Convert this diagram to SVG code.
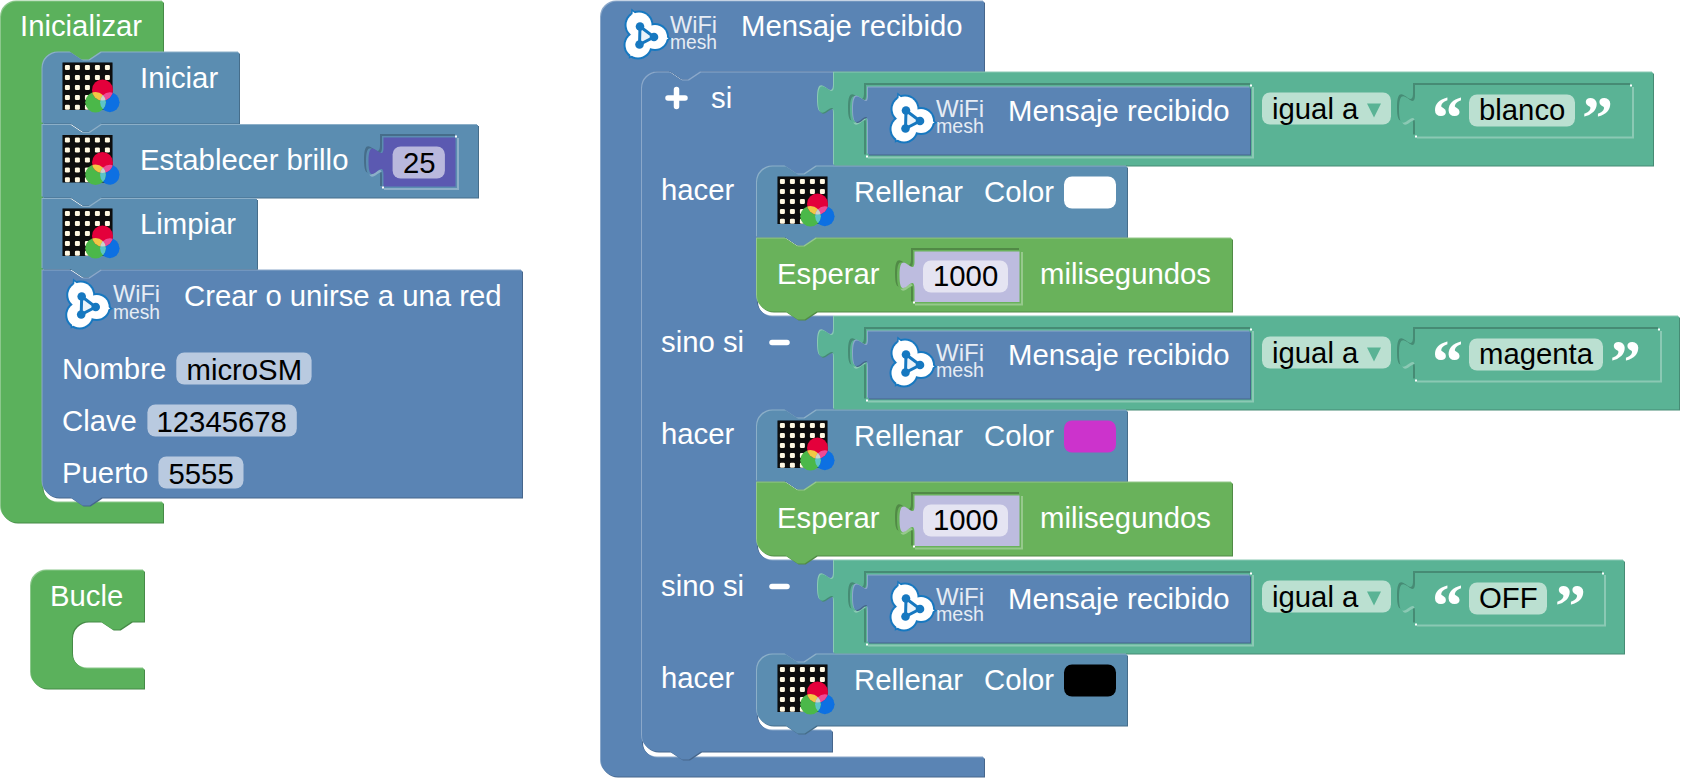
<svg xmlns="http://www.w3.org/2000/svg" width="1681" height="778" viewBox="0 0 1681 778">
<style>
text{font-family:"Liberation Sans",Arial,sans-serif;font-size:29.3px}
.w{fill:#fff}.k{fill:#000}
.bv{filter:url(#bevel)}.in{filter:url(#inset)}
.gA{fill:#5bb15c}.gB{fill:#69b25b}.bA{fill:#5a84b4}.bB{fill:#5b8db1}.v{fill:#5ab395}.pu{fill:#5b59b1}.lil{fill:#bdbcdf}
.fB{fill:#b9cae0}.fV{fill:#bbe0d1}.fP{fill:#b9b8dd}.fL{fill:#e5e4f2}
.wf{fill:#e6ecf4;font-size:24px}.ms{fill:#e6ecf4;font-size:20px}
.q{fill:#fff;font-family:"Liberation Serif",serif;font-weight:bold;font-size:62px}
.pm{stroke:#fff;stroke-width:5.5;stroke-linecap:round;fill:none}
.c{fill:#fff}
</style>
<defs>
<filter id="bevel" x="-5%" y="-5%" width="110%" height="110%" color-interpolation-filters="sRGB">
<feOffset in="SourceGraphic" dx="-1" dy="-1" result="a"/>
<feComponentTransfer in="a" result="l"><feFuncR type="linear" slope=".7" intercept=".3"/><feFuncG type="linear" slope=".7" intercept=".3"/><feFuncB type="linear" slope=".7" intercept=".3"/></feComponentTransfer>
<feOffset in="SourceGraphic" dx="1.2" dy="1.2" result="b"/>
<feComponentTransfer in="b" result="d"><feFuncR type="linear" slope=".78"/><feFuncG type="linear" slope=".78"/><feFuncB type="linear" slope=".78"/></feComponentTransfer>
<feMerge><feMergeNode in="l"/><feMergeNode in="d"/><feMergeNode in="SourceGraphic"/></feMerge>
</filter>
<filter id="inset" x="-5%" y="-5%" width="110%" height="110%" color-interpolation-filters="sRGB">
<feOffset in="SourceGraphic" dx="1.8" dy="1.8" result="a"/>
<feComponentTransfer in="a" result="l"><feFuncR type="linear" slope=".7" intercept=".3"/><feFuncG type="linear" slope=".7" intercept=".3"/><feFuncB type="linear" slope=".7" intercept=".3"/></feComponentTransfer>
<feOffset in="SourceGraphic" dx="-1.8" dy="-1.8" result="b"/>
<feComponentTransfer in="b" result="d"><feFuncR type="linear" slope=".78"/><feFuncG type="linear" slope=".78"/><feFuncB type="linear" slope=".78"/></feComponentTransfer>
<feMerge><feMergeNode in="d"/><feMergeNode in="l"/><feMergeNode in="SourceGraphic"/></feMerge>
</filter>
<filter id="soft" x="-10%" y="-10%" width="120%" height="120%"><feGaussianBlur stdDeviation=".45"/></filter>
<clipPath id="cR"><circle cx="40" cy="27.500" r="10.500"/></clipPath>
<clipPath id="cG"><circle cx="33" cy="39.700" r="10.300"/></clipPath>
<g id="d5"><rect width="5" height="5" rx="1.200" fill="#fff8e2"/></g>
<g id="matrix" filter="url(#soft)">
<rect width="50" height="47.500" fill="#0c0a08"/>
<use href="#d5" x="2.400" y="2.400"/><use href="#d5" x="12.400" y="2.400"/><use href="#d5" x="22.400" y="2.400"/><use href="#d5" x="32.400" y="2.400"/><use href="#d5" x="42.400" y="2.400"/>
<use href="#d5" x="2.400" y="12.400"/><use href="#d5" x="12.400" y="12.400"/><use href="#d5" x="22.400" y="12.400"/><use href="#d5" x="32.400" y="12.400"/><use href="#d5" x="42.400" y="12.400"/>
<use href="#d5" x="2.400" y="22.400"/><use href="#d5" x="12.400" y="22.400"/><use href="#d5" x="22.400" y="22.400"/><use href="#d5" x="32.400" y="22.400"/><use href="#d5" x="42.400" y="22.400"/>
<use href="#d5" x="2.400" y="32.400"/><use href="#d5" x="12.400" y="32.400"/><use href="#d5" x="22.400" y="32.400"/><use href="#d5" x="32.400" y="32.400"/><use href="#d5" x="42.400" y="32.400"/>
<use href="#d5" x="2.400" y="42.200"/><use href="#d5" x="12.400" y="42.200"/><use href="#d5" x="22.400" y="42.200"/><use href="#d5" x="32.400" y="42.200"/><use href="#d5" x="42.400" y="42.200"/>
<ellipse cx="47.300" cy="39.700" rx="9.700" ry="10" fill="#0b6fe2"/>
<circle cx="33" cy="39.700" r="10.300" fill="#4cb849"/>
<circle cx="40" cy="27.500" r="10.500" fill="#e4003a"/>
<g clip-path="url(#cR)"><circle cx="33" cy="39.700" r="10.300" fill="#f2c844"/><ellipse cx="47.300" cy="39.700" rx="9.700" ry="10" fill="#ee4b96"/></g>
<g clip-path="url(#cG)"><ellipse cx="47.300" cy="39.700" rx="9.700" ry="10" fill="#5cc3c9"/></g>
<g clip-path="url(#cR)"><g clip-path="url(#cG)"><ellipse cx="47.300" cy="39.700" rx="9.700" ry="10" fill="#d0d0c8"/></g></g>
</g>
<g id="logo" filter="url(#soft)">
<g fill="#1878c0" stroke="none"><circle cx="16" cy="14.500" r="14.500"/><circle cx="32" cy="26.500" r="14"/><circle cx="15" cy="34.500" r="14.500"/></g>
<path d="M16,14.500L32,26.500L15,34.500Z" fill="#1878c0" stroke="#1878c0" stroke-width="17"/>
<g fill="#fff"><circle cx="16" cy="14.500" r="12.500"/><circle cx="32" cy="26.500" r="12"/><circle cx="15" cy="34.500" r="12.500"/></g>
<path d="M16,14.500L32,26.500L15,34.500Z" fill="#fff" stroke="#fff" stroke-width="14"/>
<path d="M17,16L31,26.500L16.500,34Z" fill="#eaf3fa" stroke="#1878c0" stroke-width="3"/>
<circle cx="17" cy="16" r="4.300" fill="#1878c0"/><circle cx="31" cy="26.500" r="4.300" fill="#1878c0"/><circle cx="16.500" cy="34" r="4.300" fill="#1878c0"/>
</g>
</defs>
<rect width="1681" height="778" fill="#fff"/>
<g transform="translate(0,.5)">

<g id="inicializar">
<path class="gA bv" d="M1,17A16,16 0 0 1 17,1H163V52H101.600l-12,8h-7l-12,-8H58.500A16,16 0 0 0 42.500,68V486A16,16 0 0 0 58.500,502H163V522H17A16,16 0 0 1 1,506Z"/>
<text class="w" x="20" y="35">Inicializar</text>
</g>
<g id="iniciar">
<path class="bB bv" d="M42.500,68A16,16 0 0 1 58.500,52H70.600l12,8h7l12,-8H239V123H101.600l-12,8h-7l-12,-8H42.500Z"/>
<use href="#matrix" x="62.500" y="62"/>
<text class="w" x="140" y="87.500">Iniciar</text>
</g>
<g id="establecer-brillo">
<path class="bB bv" d="M42.500,124.500H70.600l12,8h7l12,-8H478V197H101.600l-12,8h-7l-12,-8H42.500Z"/>
<use href="#matrix" x="62.500" y="134.500"/>
<text class="w" x="140" y="169">Establecer brillo</text>
<path class="bB in" d="M382,135.500H457V187.500H382V176c0,-20 -16,16 -16,-15s16,5 16,-15Z"/>
<path class="pu" d="M383.500,137H455.500V186H383.500V175c0,-20 -15,16 -15,-14s15,4 15,-14Z"/>
<rect class="c" x="455" y="135" width="2" height="2"/><rect class="c" x="382" y="186" width="2" height="2"/>
<rect class="fP" x="392.600" y="146" width="52.300" height="32" rx="8"/>
<text class="k" x="403" y="172">25</text>
</g>
<g id="limpiar">
<path class="bB bv" d="M42.500,198.500H70.600l12,8h7l12,-8H257V268.500H101.600l-12,8h-7l-12,-8H42.500Z"/>
<use href="#matrix" x="62.500" y="208"/>
<text class="w" x="140" y="233">Limpiar</text>
</g>
<g id="crear-red">
<path class="bA bv" d="M42.500,270H70.600l12,8h7l12,-8H522V497H101.600l-12,8h-7l-12,-8H58.500A16,16 0 0 1 42.500,481Z"/>
<use href="#logo" x="64.700" y="280"/>
<text class="wf" x="113" y="301" textLength="47" lengthAdjust="spacingAndGlyphs">WiFi</text>
<text class="ms" x="113" y="318" textLength="47" lengthAdjust="spacingAndGlyphs">mesh</text>
<text class="w" x="184" y="305">Crear o unirse a una red</text>
<text class="w" x="62" y="378">Nombre</text>
<rect class="fB" x="176.300" y="352" width="135.300" height="32" rx="8"/>
<text class="k" x="186.500" y="379">microSM</text>
<text class="w" x="62" y="430">Clave</text>
<rect class="fB" x="147.400" y="404" width="149.400" height="32" rx="8"/>
<text class="k" x="156.500" y="431">12345678</text>
<text class="w" x="62" y="482">Puerto</text>
<rect class="fB" x="158.400" y="456" width="85.100" height="32" rx="8"/>
<text class="k" x="168.500" y="483">5555</text>
</g>
<g id="bucle">
<path class="gA bv" d="M31,586A16,16 0 0 1 47,570H144V621H131.700l-12,8h-7l-12,-8H88A16,16 0 0 0 72,637V652A16,16 0 0 0 88,668H144V688H47A16,16 0 0 1 31,672Z"/>
<text class="w" x="50" y="605">Bucle</text>
</g>

<g id="mensaje-recibido">
<path class="bA bv" d="M601,17A16,16 0 0 1 617,1H984V71H701l-12,8h-7l-12,-8H658A16,16 0 0 0 642,87V741A16,16 0 0 0 658,757H984V776H617A16,16 0 0 1 601,760Z"/>
<use href="#logo" x="623" y="10"/>
<text class="wf" x="670" y="32" textLength="47" lengthAdjust="spacingAndGlyphs">WiFi</text>
<text class="ms" x="670" y="48" textLength="47" lengthAdjust="spacingAndGlyphs">mesh</text>
<text class="w" x="741" y="35">Mensaje recibido</text>
</g>
<g id="si">
<path class="bA bv" d="M642,88A16,16 0 0 1 658,72H670l12,8h7l12,-8H834V166H816.600l-12,8h-7l-12,-8H773A16,16 0 0 0 757,182V300A16,16 0 0 0 773,316H834V410H816.600l-12,8h-7l-12,-8H773A16,16 0 0 0 757,426V544A16,16 0 0 0 773,560H834V654H816.600l-12,8h-7l-12,-8H773A16,16 0 0 0 757,670V714A16,16 0 0 0 773,730H832V751H701l-12,8h-7l-12,-8H658A16,16 0 0 1 642,735Z"/>
<path class="pm" d="M668,97.500H685M676.500,89V106"/>
<text class="w" x="711" y="107">si</text>
<text class="w" x="661" y="199">hacer</text>
<text class="w" x="661" y="351">sino si</text>
<path class="pm" d="M772,342H787"/>
<text class="w" x="661" y="443">hacer</text>
<text class="w" x="661" y="595">sino si</text>
<path class="pm" d="M772,586H787"/>
<text class="w" x="661" y="687">hacer</text>
</g>

<g id="cond-blanco">
<path class="v bv" d="M834,72H1653V165H834V114c0,-20 -16,16 -16,-15s16,5 16,-15Z"/>
<path class="v in" d="M866,84.500H1252V156H866V124c0,-20 -16,16 -16,-15s16,5 16,-15Z"/>
<path class="bA bv" d="M868,87H1250V154H868V123c0,-20 -15,16 -15,-14s15,4 15,-14Z"/>
<rect class="c" x="1250" y="84" width="2" height="2"/><rect class="c" x="866" y="155" width="2" height="2"/>
<use href="#logo" x="889" y="94"/>
<text class="wf" x="936" y="116" textLength="48" lengthAdjust="spacingAndGlyphs">WiFi</text>
<text class="ms" x="936" y="132" textLength="48" lengthAdjust="spacingAndGlyphs">mesh</text>
<text class="w" x="1008" y="120">Mensaje recibido</text>
<rect class="fV" x="1262" y="92" width="129" height="32" rx="8"/>
<text class="k" x="1272" y="118">igual a</text>
<path class="v" d="M1367,103H1381L1374,117Z"/>
<path class="v in" d="M1415,84.500H1632V136H1415V124c0,-20 -16,16 -16,-15s16,5 16,-15Z"/>
<rect class="c" x="1630" y="84" width="2" height="2"/><rect class="c" x="1415" y="135" width="2" height="2"/>
<text class="q" x="1432" y="137">“</text>
<rect class="fV" x="1469" y="94" width="106" height="32" rx="8"/>
<text class="k" x="1479" y="119.500">blanco</text>
<text class="q" x="1582" y="137">”</text>
</g>
<g id="rellenar-blanco">
<path class="bB bv" d="M757,182A16,16 0 0 1 773,166H785.600l12,8h7l12,-8H1127V237H816.600l-12,8h-7l-12,-8H757Z"/>
<use href="#matrix" x="777.500" y="176"/>
<text class="w" x="854" y="201">Rellenar</text>
<text class="w" x="984" y="201">Color</text>
<rect fill="#fff" x="1064" y="176" width="52" height="32" rx="8"/>
</g>
<g id="esperar-1">
<path class="gB bv" d="M757,238H785.600l12,8h7l12,-8H1232V311H816.600l-12,8h-7l-12,-8H773A16,16 0 0 1 757,295Z"/>
<text class="w" x="777" y="283">Esperar</text>
<path class="gB in" d="M913,249.500H1021V303H913V290c0,-20 -16,16 -16,-15s16,5 16,-15Z"/>
<path class="lil" d="M914.500,251H1019.500V301.500H914.500V289c0,-20 -15,16 -15,-14s15,4 15,-14Z"/>
<rect class="c" x="913" y="301" width="2" height="2"/>
<rect class="fL" x="923" y="260" width="85" height="32" rx="8"/>
<text class="k" x="933" y="285">1000</text>
<text class="w" x="1040" y="283">milisegundos</text>
</g>

<g id="cond-magenta" transform="translate(0,244)">
<path class="v bv" d="M834,72H1679V165H834V114c0,-20 -16,16 -16,-15s16,5 16,-15Z"/>
<path class="v in" d="M866,84.500H1252V156H866V124c0,-20 -16,16 -16,-15s16,5 16,-15Z"/>
<path class="bA bv" d="M868,87H1250V154H868V123c0,-20 -15,16 -15,-14s15,4 15,-14Z"/>
<rect class="c" x="1250" y="84" width="2" height="2"/><rect class="c" x="866" y="155" width="2" height="2"/>
<use href="#logo" x="889" y="94"/>
<text class="wf" x="936" y="116" textLength="48" lengthAdjust="spacingAndGlyphs">WiFi</text>
<text class="ms" x="936" y="132" textLength="48" lengthAdjust="spacingAndGlyphs">mesh</text>
<text class="w" x="1008" y="120">Mensaje recibido</text>
<rect class="fV" x="1262" y="92" width="129" height="32" rx="8"/>
<text class="k" x="1272" y="118">igual a</text>
<path class="v" d="M1367,103H1381L1374,117Z"/>
<path class="v in" d="M1415,84.500H1660V136H1415V124c0,-20 -16,16 -16,-15s16,5 16,-15Z"/>
<rect class="c" x="1658" y="84" width="2" height="2"/><rect class="c" x="1415" y="135" width="2" height="2"/>
<text class="q" x="1432" y="137">“</text>
<rect class="fV" x="1469" y="94" width="134" height="32" rx="8"/>
<text class="k" x="1479" y="119.500">magenta</text>
<text class="q" x="1610" y="137">”</text>
</g>
<g id="rellenar-magenta" transform="translate(0,244)">
<path class="bB bv" d="M757,182A16,16 0 0 1 773,166H785.600l12,8h7l12,-8H1127V237H816.600l-12,8h-7l-12,-8H757Z"/>
<use href="#matrix" x="777.500" y="176"/>
<text class="w" x="854" y="201">Rellenar</text>
<text class="w" x="984" y="201">Color</text>
<rect fill="#cc33cc" x="1064" y="176" width="52" height="32" rx="8"/>
</g>
<g id="esperar-2" transform="translate(0,244)">
<path class="gB bv" d="M757,238H785.600l12,8h7l12,-8H1232V311H816.600l-12,8h-7l-12,-8H773A16,16 0 0 1 757,295Z"/>
<text class="w" x="777" y="283">Esperar</text>
<path class="gB in" d="M913,249.500H1021V303H913V290c0,-20 -16,16 -16,-15s16,5 16,-15Z"/>
<path class="lil" d="M914.500,251H1019.500V301.500H914.500V289c0,-20 -15,16 -15,-14s15,4 15,-14Z"/>
<rect class="c" x="913" y="301" width="2" height="2"/>
<rect class="fL" x="923" y="260" width="85" height="32" rx="8"/>
<text class="k" x="933" y="285">1000</text>
<text class="w" x="1040" y="283">milisegundos</text>
</g>

<g id="cond-off" transform="translate(0,488)">
<path class="v bv" d="M834,72H1624V165H834V114c0,-20 -16,16 -16,-15s16,5 16,-15Z"/>
<path class="v in" d="M866,84.500H1252V156H866V124c0,-20 -16,16 -16,-15s16,5 16,-15Z"/>
<path class="bA bv" d="M868,87H1250V154H868V123c0,-20 -15,16 -15,-14s15,4 15,-14Z"/>
<rect class="c" x="1250" y="84" width="2" height="2"/><rect class="c" x="866" y="155" width="2" height="2"/>
<use href="#logo" x="889" y="94"/>
<text class="wf" x="936" y="116" textLength="48" lengthAdjust="spacingAndGlyphs">WiFi</text>
<text class="ms" x="936" y="132" textLength="48" lengthAdjust="spacingAndGlyphs">mesh</text>
<text class="w" x="1008" y="120">Mensaje recibido</text>
<rect class="fV" x="1262" y="92" width="129" height="32" rx="8"/>
<text class="k" x="1272" y="118">igual a</text>
<path class="v" d="M1367,103H1381L1374,117Z"/>
<path class="v in" d="M1415,84.500H1604V136H1415V124c0,-20 -16,16 -16,-15s16,5 16,-15Z"/>
<rect class="c" x="1602" y="84" width="2" height="2"/><rect class="c" x="1415" y="135" width="2" height="2"/>
<text class="q" x="1432" y="137">“</text>
<rect class="fV" x="1469" y="94" width="78" height="32" rx="8"/>
<text class="k" x="1479" y="119.500">OFF</text>
<text class="q" x="1555" y="137">”</text>
</g>
<g id="rellenar-negro">
<path class="bB bv" d="M757,670A16,16 0 0 1 773,654H785.600l12,8h7l12,-8H1127V725H816.600l-12,8h-7l-12,-8H773A16,16 0 0 1 757,709Z"/>
<use href="#matrix" x="777.500" y="664"/>
<text class="w" x="854" y="689">Rellenar</text>
<text class="w" x="984" y="689">Color</text>
<rect fill="#000" x="1064" y="664" width="52" height="32" rx="8"/>
</g>
</g>
</svg>
